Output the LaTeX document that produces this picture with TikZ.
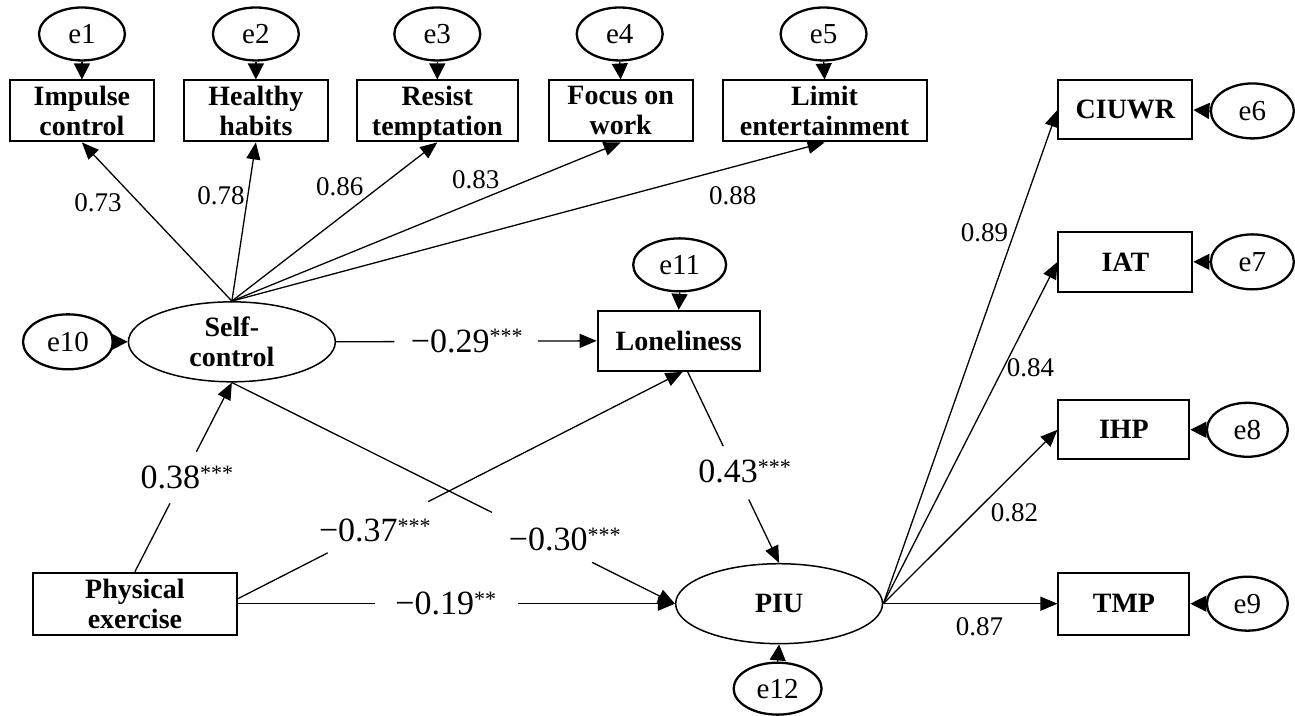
\documentclass[tikz,border=0pt]{standalone}
\usepackage{fontspec}
\setmainfont{Liberation Serif}
\usetikzlibrary{arrows.meta,shapes.geometric,calc}
\newcommand{\mystars}[1]{\raisebox{8.5pt}{\fontsize{22}{22}\selectfont #1}}
\begin{document}
\begin{tikzpicture}[x=1pt,y=-1pt,
  >={Triangle[length=17pt,width=14pt]},
  conn/.style={line width=1.3pt},
  arr/.style={conn,->},
  earr/.style={conn,-{Triangle[length=16pt,width=16pt]}},
  obs/.style={draw,line width=2pt,inner sep=0pt,minimum height=61pt,align=center,font=\fontsize{28}{30}\selectfont\bfseries},
  lat/.style={draw,ellipse,line width=1.5pt,inner sep=0pt,minimum width=207pt,minimum height=80pt,align=center,font=\fontsize{28}{30}\selectfont\bfseries},
  err/.style={draw,ellipse,line width=2.3pt,inner sep=0pt,minimum width=86pt,minimum height=53pt,font=\fontsize{29}{29}\selectfont},
  ld/.style={font=\fontsize{27}{27}\selectfont,inner sep=0pt},
  pc/.style={font=\fontsize{34}{34}\selectfont,inner sep=0pt},
]
\fill[white] (0,0) rectangle (1295,716);
% top error terms and indicators
\node[err] (e1) at (82,34) {e1};
\node[err] (e2) at (256,34) {e2};
\node[err] (e3) at (437.5,34) {e3};
\node[err] (e4) at (620,34) {e4};
\node[err] (e5) at (824,34) {e5};
\node[obs,minimum width=144pt] (ic) at (82,111) {Impulse\\control};
\node[obs,minimum width=144pt] (hh) at (256,111) {Healthy\\habits};
\node[obs,minimum width=161pt] (rt) at (437.5,111) {Resist\\\smash{temptation}};
\node[obs,minimum width=144pt] (fw) at (621,111) {Focus on\\work};
\node[obs,minimum width=204pt] (le) at (825,111) {Limit\\entertainment};
% latent and central nodes
\node[lat] (sc) at (232,342) {Self-\\control};
\node[err,minimum width=90pt,minimum height=55pt] (e10) at (68,342) {e10};
\node[obs,minimum width=162pt,minimum height=60pt] (lon) at (679,341) {Loneliness};
\node[err,minimum width=93pt] (e11) at (680,265) {e11};
\node[obs,minimum width=204pt,minimum height=62pt] (pe) at (135,604) {Physical\\exercise};
\node[lat] (piu) at (779.5,604) {PIU};
\node[err,minimum width=88pt,minimum height=52pt] (e12) at (778,689) {e12};
% right indicators
\node[obs,minimum width=134pt,minimum height=59pt] (cw) at (1126,110) {CIUWR};
\node[obs,minimum width=134pt,minimum height=60pt] (iat) at (1126,262) {IAT};
\node[obs,minimum width=131pt,minimum height=59pt] (ihp) at (1124.5,430) {IHP};
\node[obs,minimum width=131pt,minimum height=62pt] (tmp) at (1124.5,604) {TMP};
\node[err,minimum width=83pt,minimum height=55pt] (e6) at (1253,111) {e6};
\node[err,minimum width=83pt,minimum height=55pt] (e7) at (1253,262) {e7};
\node[err,minimum width=81pt,minimum height=54pt] (e8) at (1248,430) {e8};
\node[err,minimum width=81pt,minimum height=54pt] (e9) at (1248,604) {e9};
% error arrows
\foreach \e/\b in {e1/ic,e2/hh,e3/rt,e4/fw,e5/le}
  \draw[earr] (\e.south) -- (\b.north);
\draw[earr] (e10.east) -- (sc.west);
\draw[earr] (e11.south) -- (lon.north);
\draw[earr] (e12.north) -- (piu.south);
\foreach \e/\b in {e6/cw,e7/iat,e8/ihp,e9/tmp}
  \draw[earr] (\e.west) -- (\b.east);
% loadings of self-control
\foreach \b in {ic,hh,rt,fw,le}
  \draw[arr] (sc.north) -- (\b.south);
\node[ld] (l1) at (98,203) {0.73};
\node[ld] (l2) at (221,196) {0.78};
\node[ld] (l3) at (340,187) {0.86};
\node[ld] (l4) at (476,180) {0.83};
\node[ld] (l5) at (733,196) {0.88};
% loadings of PIU
\foreach \b in {cw,iat,ihp,tmp}
  \draw[arr] (piu.east) -- (\b.west);
\node[ld] (l6) at (985,233) {0.89};
\node[ld] (l7) at (1031,368) {0.84};
\node[ld] (l8) at (1015,513) {0.82};
\node[ld] (l9) at (980,627) {0.87};
% structural paths with gaps
\coordinate (a1) at ($(sc.east)!0.224!(lon.west)$);
\coordinate (a2) at ($(sc.east)!0.774!(lon.west)$);
\draw[conn] (sc.east) -- (a1);
\draw[arr] (a2) -- (lon.west);
\node[pc] (p1) at (467,341) {−0.29\mystars{***}};

\coordinate (b1) at ($(pe.north)!0.361!(sc.south)$);
\coordinate (b2) at ($(pe.north)!0.634!(sc.south)$);
\draw[conn] (pe.north) -- (b1);
\draw[arr] (b2) -- (sc.south);
\node[pc] (p2) at (187,478) {0.38\mystars{***}};

\coordinate (c0) at ([yshift=5pt]pe.east);
\coordinate (c3) at ([xshift=4pt]lon.south);
\coordinate (c1) at ($(c0)!0.202!(c3)$);
\coordinate (c2) at ($(c0)!0.428!(c3)$);
\draw[conn] (c0) -- (c1);
\draw[arr] (c2) -- (c3);
\node[pc] (p3) at (375,531) {−0.37\mystars{***}};

\coordinate (d1) at ($(sc.south)!0.587!(piu.west)$);
\coordinate (d2) at ($(sc.south)!0.813!(piu.west)$);
\draw[conn] (sc.south) -- (d1);
\draw[arr] (d2) -- (piu.west);
\node[pc] (p4) at (565,540) {−0.30\mystars{***}};

\coordinate (f1) at ($(pe.east)!0.314!(piu.west)$);
\coordinate (f2) at ($(pe.east)!0.642!(piu.west)$);
\draw[conn] (pe.east) -- (f1);
\draw[arr] (f2) -- (piu.west);
\node[pc] (p5) at (446,604) {−0.19\mystars{**}};

\coordinate (h0) at ([xshift=9pt]lon.south);
\coordinate (h1) at ($(h0)!0.389!(piu.north)$);
\coordinate (h2) at ($(h0)!0.668!(piu.north)$);
\draw[conn] (h0) -- (h1);
\draw[arr] (h2) -- (piu.north);
\node[pc] (p6) at (745,472) {0.43\mystars{***}};
\end{tikzpicture}
\end{document}
